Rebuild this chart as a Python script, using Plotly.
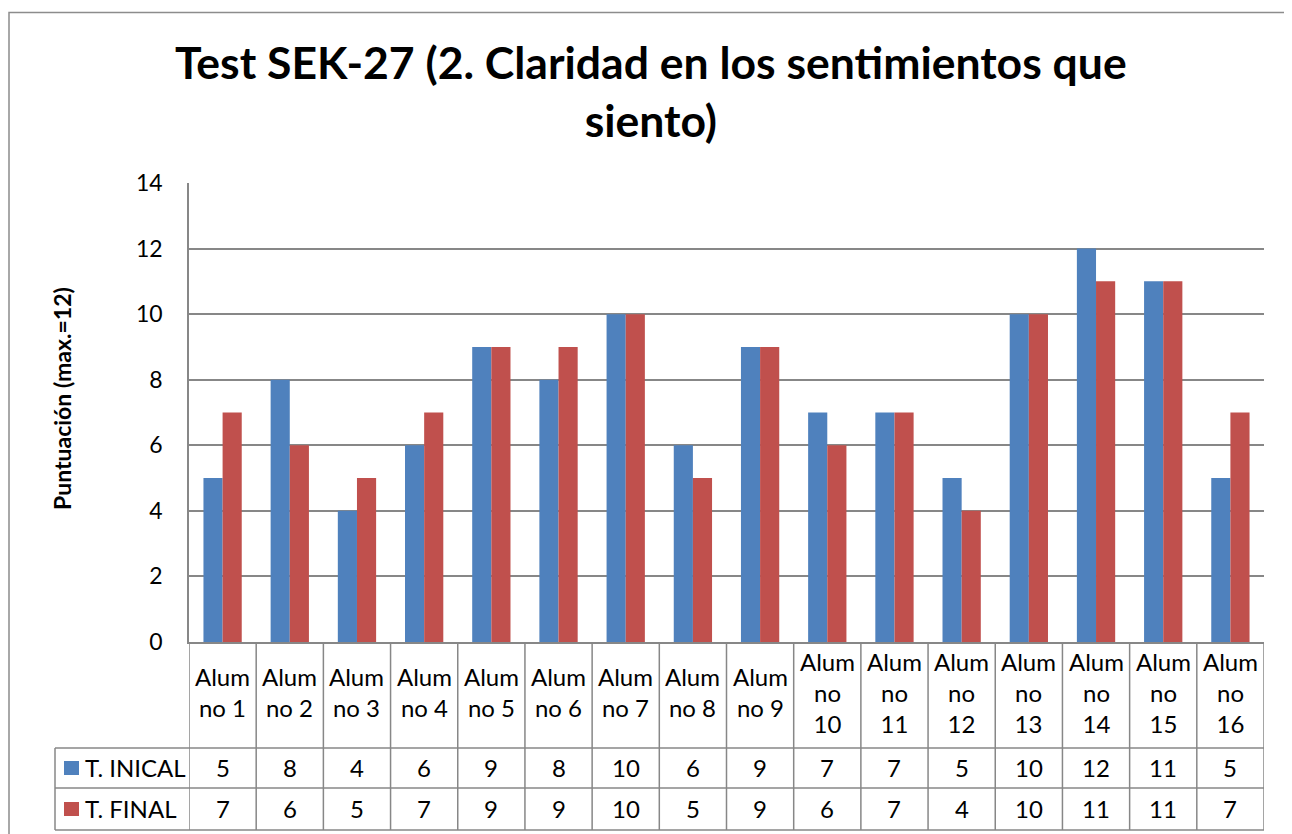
import plotly.graph_objects as go

categories = [f"Alumno {i}" for i in range(1, 17)]
header_labels = ["Alum<br>no 1", "Alum<br>no 2", "Alum<br>no 3", "Alum<br>no 4", "Alum<br>no 5",
                 "Alum<br>no 6", "Alum<br>no 7", "Alum<br>no 8", "Alum<br>no 9",
                 "Alum<br>no<br>10", "Alum<br>no<br>11", "Alum<br>no<br>12", "Alum<br>no<br>13",
                 "Alum<br>no<br>14", "Alum<br>no<br>15", "Alum<br>no<br>16"]
t_inicial = [5, 8, 4, 6, 9, 8, 10, 6, 9, 7, 7, 5, 10, 12, 11, 5]
t_final = [7, 6, 5, 7, 9, 9, 10, 5, 9, 6, 7, 4, 10, 11, 11, 7]
series_names = ["T. INICAL", "T. FINAL"]
colors = ["#4F81BD", "#C0504D"]
title_text = "Test SEK-27 (2. Claridad en los sentimientos que<br>siento)"
y_title = "Puntuación (max.=12)"

FONT = "Lato"
OFF = 8  # default page body margin
W, H = 1292 - OFF, 834 - OFF
# plot area in target-page pixels
PL, PR, PT, PB = 189, 1264, 183, 642
L, R, T, B = PL - OFF, W - (PR - OFF), PT - OFF, H - (PB - OFF)
pw, ph = W - L - R, H - T - B

def py(pix):
    return (PB - pix) / ph

def px(pix):
    return (pix - PL) / pw

fig = go.Figure()
xs = list(range(len(categories)))
for name, vals, c in zip(series_names, [t_inicial, t_final], colors):
    fig.add_trace(go.Bar(x=xs, y=vals, name=name, marker=dict(color=c, line=dict(width=0)),
                         showlegend=False))

grid = "#878787"
shapes = []
annotations = []
# outer border
shapes.append(dict(type="rect", xref="paper", yref="paper", x0=px(9), x1=px(1320),
                   y0=py(860), y1=py(12.5), line=dict(color="#8c8c8c", width=1.5)))
# table vertical lines
for i in range(len(categories) + 1):
    shapes.append(dict(type="line", xref="x", yref="paper", x0=i - 0.5, x1=i - 0.5,
                       y0=0, y1=py(830), line=dict(color=grid, width=1.5)))
# horizontal lines
for yy in [748, 788, 830]:
    shapes.append(dict(type="line", xref="paper", yref="paper", x0=px(55), x1=1,
                       y0=py(yy), y1=py(yy), line=dict(color=grid, width=1.5)))
shapes.append(dict(type="line", xref="paper", yref="paper", x0=px(55), x1=px(55),
                   y0=py(748), y1=py(830), line=dict(color=grid, width=1.5)))

tf = dict(family=FONT, size=24, color="#000")
for i, lab in enumerate(header_labels):
    annotations.append(dict(x=i, y=py(692), xref="x", yref="paper", text=lab, showarrow=False,
                            xanchor="center", yanchor="middle", font=tf, align="center"))
    annotations.append(dict(x=i, y=py(767), xref="x", yref="paper", text=str(t_inicial[i]),
                            xanchor="center", yanchor="middle", showarrow=False, font=tf))
    annotations.append(dict(x=i, y=py(808), xref="x", yref="paper", text=str(t_final[i]),
                            xanchor="center", yanchor="middle", showarrow=False, font=tf))
# legend keys in table
for name, c, yc in zip(series_names, colors, [768, 809]):
    shapes.append(dict(type="rect", xref="paper", yref="paper", x0=px(64), x1=px(79),
                       y0=py(yc + 7), y1=py(yc - 7), fillcolor=c, line=dict(width=0)))
    annotations.append(dict(x=px(83), y=py(yc - 1), xref="paper", yref="paper", text=name,
                            xanchor="left", yanchor="middle", showarrow=False, font=tf))
# y axis title
annotations.append(dict(x=px(62), y=py(399), xref="paper", yref="paper", text=f"<b>{y_title}</b>",
                        textangle=-90, xanchor="center", yanchor="middle", showarrow=False,
                        font=dict(family=FONT, size=23, color="#000")))
# chart title
annotations.append(dict(x=px(651), y=py(90), xref="paper", yref="paper", text=f"<b>{title_text}</b>",
                        xanchor="center", yanchor="middle", showarrow=False, align="center",
                        font=dict(family=FONT, size=44.5, color="#000")))

fig.update_layout(
    width=W, height=H,
    margin=dict(l=L, r=R, t=T, b=B),
    paper_bgcolor="white", plot_bgcolor="white",
    barmode="group", bargap=0.43, bargroupgap=0,
    shapes=shapes, annotations=annotations,
)
fig.update_xaxes(range=[-0.5, len(categories) - 0.5], showticklabels=False, showgrid=False,
                 showline=True, linecolor=grid, linewidth=1.5, zeroline=False, fixedrange=True)
fig.update_yaxes(range=[0, 14], dtick=2, showgrid=True, gridcolor=grid, gridwidth=1.5,
                 showline=True, linecolor=grid, linewidth=1.5, zeroline=False,
                 ticks="", ticklabelstandoff=20,
                 tickfont=dict(family=FONT, size=23, color="#000"))

fig.write_html("out.html")
